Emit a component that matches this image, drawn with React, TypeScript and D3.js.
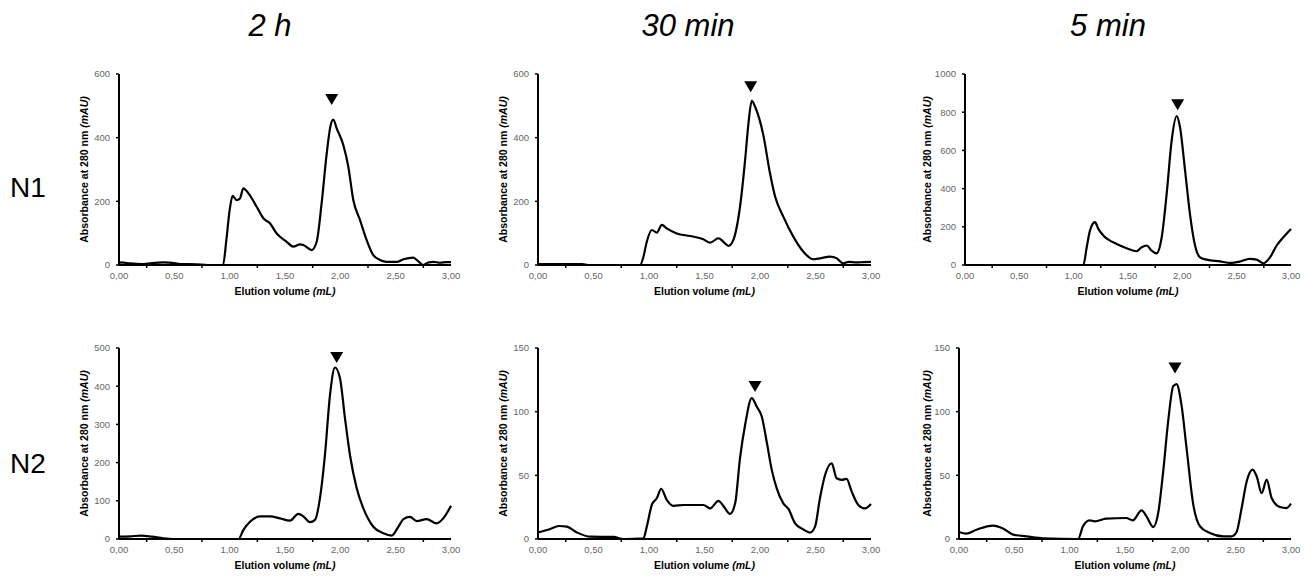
import React from 'react';
import * as d3 from 'd3';

// ---------- DATA ----------
const timeLabels = ['2 h', '30 min', '5 min'];
const rowLabels = ['N1', 'N2'];
const xTicks = [0, 0.5, 1, 1.5, 2, 2.5, 3];
const xMinorTicks = [0.25, 0.75, 1.25, 1.75, 2.25, 2.75];
const yMaxN1 = [600, 600, 1000];
const yStepN1 = [200, 200, 200];
const yMaxN2 = [500, 150, 150];
const yStepN2 = [100, 50, 50];

// N1 – 2 h
const n1_2h_x = [0, 0.02, 0.1, 0.2, 0.3, 0.4, 0.5, 0.55, 0.7, 0.8, 0.94, 0.97, 1.0, 1.027, 1.063, 1.093, 1.123, 1.17, 1.244, 1.304, 1.364, 1.425, 1.515, 1.575, 1.636, 1.666, 1.741, 1.786, 1.831, 1.877, 1.913, 1.937, 1.967, 2.027, 2.072, 2.117, 2.178, 2.238, 2.298, 2.358, 2.419, 2.51, 2.57, 2.66, 2.69, 2.75, 2.795, 2.84, 2.9, 2.96, 3.0];
const n1_2h_y = [5, 8, 5, 3, 6, 8, 6, 3, 2, 0, 0, 78, 173, 217, 204, 209, 241, 225, 183, 147, 131, 99, 73, 58, 65, 63, 47, 73, 194, 351, 440, 457, 429, 377, 309, 204, 141, 78, 31, 16, 10, 10, 18, 23, 16, 0, 8, 10, 7, 9, 9];

// N1 – 30 min
const n1_30_x = [0, 0.2, 0.4, 0.45, 0.92, 0.95, 0.98, 1.026, 1.07, 1.116, 1.16, 1.25, 1.37, 1.49, 1.55, 1.626, 1.67, 1.716, 1.76, 1.82, 1.866, 1.896, 1.926, 1.956, 2.03, 2.09, 2.136, 2.21, 2.3, 2.39, 2.48, 2.54, 2.63, 2.69, 2.75, 2.8, 2.87, 2.93, 3.0];
const n1_30_y = [3, 3, 3, 0, 0, 26, 73, 110, 102, 126, 115, 99, 91, 81, 70, 84, 73, 60, 79, 183, 330, 445, 516, 497, 408, 288, 215, 152, 89, 42, 18, 21, 26, 21, 5, 10, 8, 9, 10];

// N1 – 5 min
const n1_5_x = [0, 0.5, 1.0, 1.089, 1.12, 1.15, 1.196, 1.227, 1.273, 1.396, 1.488, 1.58, 1.626, 1.672, 1.718, 1.764, 1.81, 1.856, 1.902, 1.948, 1.978, 2.025, 2.07, 2.117, 2.163, 2.224, 2.347, 2.44, 2.53, 2.62, 2.684, 2.745, 2.807, 2.868, 2.929, 3.0];
const n1_5_y = [0, 0, 0, 0, 93, 180, 224, 189, 154, 110, 88, 72, 93, 102, 75, 61, 145, 373, 653, 779, 723, 496, 268, 102, 40, 28, 19, 11, 18, 32, 28, 9, 40, 102, 145, 189];

// N2 – 2 h
const n2_2h_x = [0, 0.1, 0.2, 0.3, 0.4, 0.5, 0.8, 1.08, 1.124, 1.184, 1.274, 1.364, 1.455, 1.545, 1.62, 1.666, 1.726, 1.771, 1.816, 1.861, 1.907, 1.952, 1.997, 2.042, 2.087, 2.148, 2.208, 2.298, 2.389, 2.464, 2.524, 2.57, 2.63, 2.69, 2.78, 2.87, 2.93, 3.0];
const n2_2h_y = [6, 7, 9, 6, 2, 0, 0, 0, 24, 45, 59, 59, 54, 48, 66, 59, 44, 50, 107, 220, 378, 449, 421, 316, 220, 133, 80, 32, 15, 9, 32, 52, 58, 47, 52, 41, 54, 87];

// N2 – 30 min
const n2_30_x = [0, 0.11, 0.186, 0.26, 0.35, 0.47, 0.68, 0.77, 0.95, 0.98, 1.026, 1.07, 1.11, 1.16, 1.22, 1.31, 1.49, 1.55, 1.626, 1.67, 1.73, 1.776, 1.82, 1.866, 1.926, 1.97, 2.016, 2.06, 2.106, 2.15, 2.21, 2.256, 2.316, 2.39, 2.45, 2.496, 2.54, 2.586, 2.646, 2.69, 2.736, 2.78, 2.826, 2.886, 2.946, 3.0];
const n2_30_y = [5.2, 7.9, 10.2, 9.7, 5.2, 1.8, 1.6, 0, 0.5, 9.7, 27, 32, 39.3, 30.7, 26, 26.7, 26.7, 24, 30, 26, 19.7, 28, 63.5, 89.7, 110.7, 104, 96.2, 76.6, 54.3, 39.9, 28, 23.6, 12.3, 7.6, 5, 9.7, 32, 50.3, 59.5, 47.7, 46.4, 47.2, 37.2, 26.7, 24, 27.5];

// N2 – 5 min
const n2_5_x = [0, 0.066, 0.157, 0.31, 0.4, 0.49, 0.61, 0.76, 1.076, 1.12, 1.18, 1.227, 1.33, 1.51, 1.57, 1.65, 1.694, 1.755, 1.8, 1.845, 1.89, 1.936, 1.966, 2.01, 2.056, 2.117, 2.177, 2.267, 2.388, 2.463, 2.508, 2.554, 2.6, 2.653, 2.69, 2.735, 2.78, 2.825, 2.9, 2.96, 3.0];
const n2_5_y = [5.5, 4.2, 7.3, 10.5, 8.1, 3.4, 2.1, 0.5, 0, 10, 14.7, 13.9, 16, 16.5, 14.7, 22.5, 17.8, 9.4, 20.4, 53, 92.4, 120, 121.7, 105.5, 71.5, 27, 10, 4.7, 2.1, 2.1, 5.5, 24.3, 45.3, 54.5, 49.2, 36, 46.6, 32.2, 25.1, 24.3, 27.7];

// Peak markers (▼): x position and tip height in data units
const markerXN1 = [1.922, 1.916, 1.957];
const markerYN1 = [503, 543, 810];
const markerXN2 = [1.967, 1.955, 1.952];
const markerYN2 = [461, 115.4, 130];

// ---------- LAYOUT ----------
const W = 1313;
const H = 581;
const rowTop = [74, 348];
const rowBottom = [265, 539];
const colLeft = [[119, 538, 965], [119, 538, 959]];
const colRight = [451, 871, 1291];
const yTitleX = [84, 503, 927];
const titleX = [270, 688, 1108];

const FONT = 'Liberation Sans, Arial, Helvetica, sans-serif';

type PanelProps = {
  left: number; right: number; top: number; bottom: number;
  xs: number[]; ys: number[]; yMax: number; yStep: number;
  mx: number; my: number; yTitleX: number;
};

function Panel(p: PanelProps) {
  const x = d3.scaleLinear().domain([0, 3]).range([p.left, p.right]);
  const y = d3.scaleLinear().domain([0, p.yMax]).range([p.bottom, p.top]);
  const yTicks = d3.range(0, p.yMax + p.yStep / 2, p.yStep);
  const line = d3.line<number>()
    .x((_, i) => x(p.xs[i]))
    .y((d) => y(d))
    .curve(d3.curveMonotoneX);
  const pathD = line(p.ys) || '';
  const tx = x(p.mx);
  const ty = y(p.my);
  const tri = `M${tx - 6.5},${ty - 11}L${tx + 6.5},${ty - 11}L${tx},${ty}Z`;
  const cy = (p.top + p.bottom) / 2;
  return (
    <g>
      {/* axes */}
      <line x1={p.left} x2={p.left} y1={p.top} y2={p.bottom} stroke="#000" strokeWidth={2} />
      <line x1={p.left} x2={p.right} y1={p.bottom} y2={p.bottom} stroke="#000" strokeWidth={2} />
      {yTicks.map((t) => (
        <g key={'y' + t}>
          <line x1={p.left - 3} x2={p.left} y1={y(t)} y2={y(t)} stroke="#000" strokeWidth={1.5} />
          <text x={p.left - 9} y={y(t)} dy="0.35em" textAnchor="end" fontSize={9.5} fill="#666" fontFamily={FONT}>{t}</text>
        </g>
      ))}
      {xMinorTicks.map((t) => (
        <line key={'m' + t} x1={x(t)} x2={x(t)} y1={p.bottom} y2={p.bottom + 3} stroke="#000" strokeWidth={1.5} />
      ))}
      {xTicks.map((t) => (
        <text key={'x' + t} x={x(t)} y={p.bottom + 14} textAnchor="middle" fontSize={9.5} fill="#666" fontFamily={FONT}>
          {t.toFixed(2).replace('.', ',')}
        </text>
      ))}
      <text x={(p.left + p.right) / 2} y={p.bottom + 30} textAnchor="middle" fontSize={10.5} fontWeight="bold" fontFamily={FONT} fill="#000">
        Elution volume <tspan fontStyle="italic">(mL)</tspan>
      </text>
      <text transform={`translate(${p.yTitleX + 4},${cy}) rotate(-90)`} textAnchor="middle" fontSize={10.5} fontWeight="bold" fontFamily={FONT} fill="#000">
        Absorbance at 280 nm <tspan fontStyle="italic">(mAU)</tspan>
      </text>
      {/* trace */}
      <path d={pathD} fill="none" stroke="#000" strokeWidth={2.2} strokeLinejoin="round" />
      <path d={tri} fill="#000" />
    </g>
  );
}

export default function App() {
  const n1 = [[n1_2h_x, n1_2h_y], [n1_30_x, n1_30_y], [n1_5_x, n1_5_y]];
  const n2 = [[n2_2h_x, n2_2h_y], [n2_30_x, n2_30_y], [n2_5_x, n2_5_y]];
  const rows = [
    { data: n1, yMax: yMaxN1, yStep: yStepN1, mx: markerXN1, my: markerYN1 },
    { data: n2, yMax: yMaxN2, yStep: yStepN2, mx: markerXN2, my: markerYN2 },
  ];
  return (
    <svg width={W} height={H} style={{ position: 'absolute', left: 0, top: 0, background: '#fff' }}>
      <rect x={0} y={0} width={W} height={H} fill="#fff" />
      {timeLabels.map((t, i) => (
        <text key={t} x={titleX[i]} y={36} textAnchor="middle" fontSize={31} fontStyle="italic" fontFamily={FONT} fill="#000">{t}</text>
      ))}
      {rowLabels.map((r, i) => (
        <text key={r} x={10} y={[197, 473][i]} fontSize={28} fontFamily={FONT} fill="#000">{r}</text>
      ))}
      {rows.map((row, ri) =>
        row.data.map((d, ci) => (
          <Panel
            key={ri + '-' + ci}
            left={colLeft[ri][ci]}
            right={colRight[ci]}
            top={rowTop[ri]}
            bottom={rowBottom[ri]}
            xs={d[0]}
            ys={d[1]}
            yMax={row.yMax[ci]}
            yStep={row.yStep[ci]}
            mx={row.mx[ci]}
            my={row.my[ci]}
            yTitleX={yTitleX[ci]}
          />
        ))
      )}
    </svg>
  );
}
